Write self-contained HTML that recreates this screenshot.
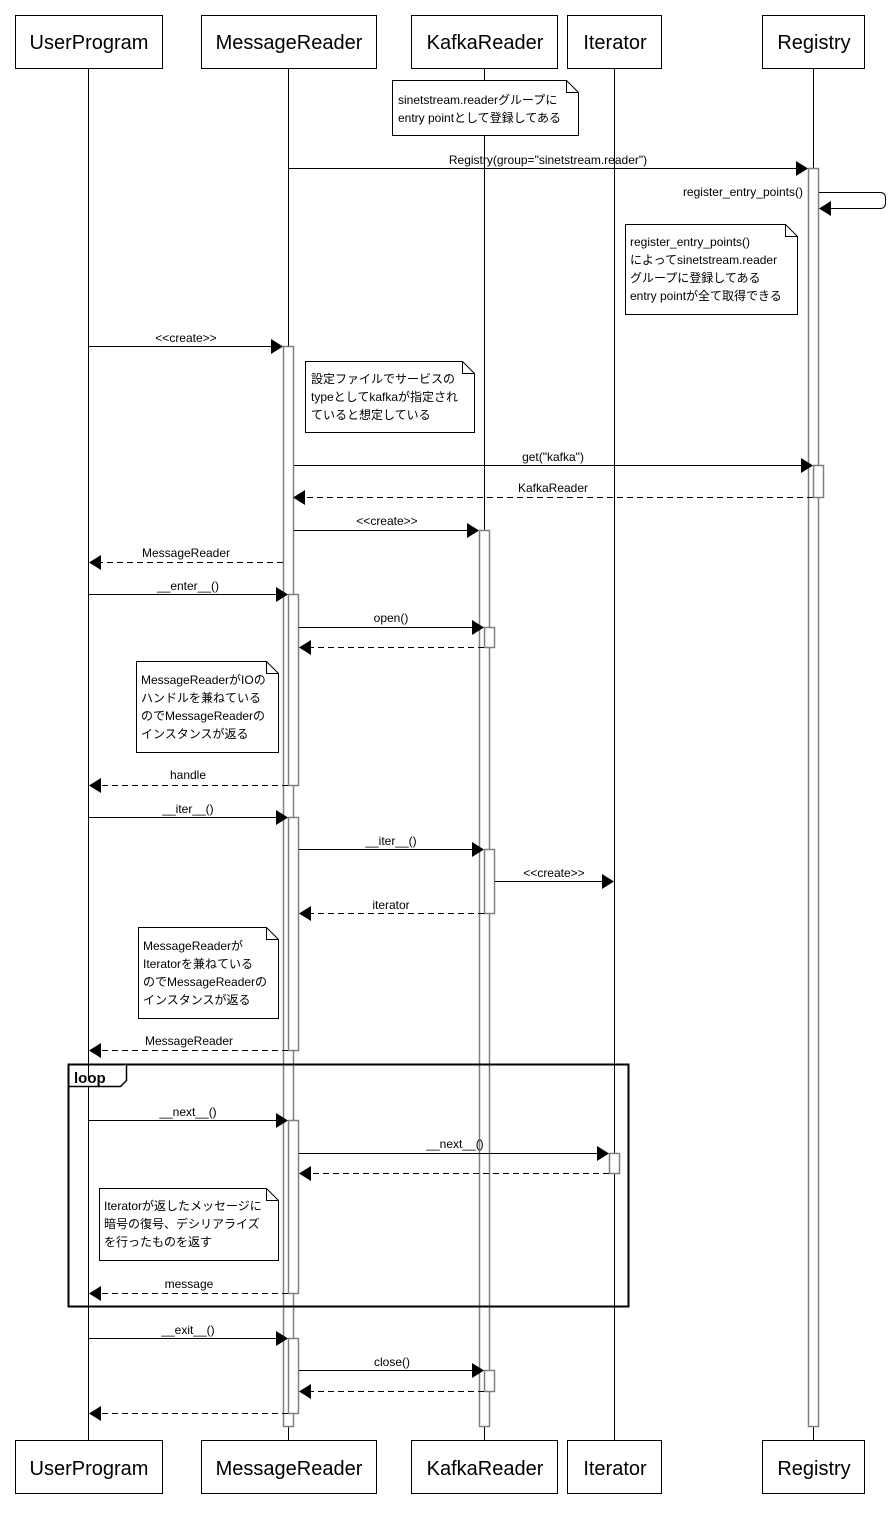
<!DOCTYPE html>
<html><head><meta charset="utf-8"><style>
html,body{margin:0;padding:0;background:#fff;}
svg{display:block;}
text{font-family:"Liberation Sans","Noto Sans CJK JP",sans-serif;fill:#000;}
.m{font-size:12px;text-anchor:middle;}
.n{font-size:12px;}
.h{font-size:20px;text-anchor:middle;}
.ll{stroke:#000;stroke-width:1;}
.act{fill:#fff;stroke:#808080;stroke-width:1.5;}
.sol{stroke:#000;stroke-width:1;fill:none;}
.dash{stroke:#000;stroke-width:1;stroke-dasharray:6,4;fill:none;}
.box{fill:#fff;stroke:#000;stroke-width:1;}
</style></head><body>
<svg width="896" height="1518" viewBox="0 0 896 1518" xmlns="http://www.w3.org/2000/svg">
<!-- lifelines -->
<line class="ll" x1="88.5" y1="68" x2="88.5" y2="1440"/>
<line class="ll" x1="288.5" y1="68" x2="288.5" y2="1440"/>
<line class="ll" x1="484.5" y1="68" x2="484.5" y2="1440"/>
<line class="ll" x1="614.5" y1="68" x2="614.5" y2="1440"/>
<line class="ll" x1="813.5" y1="68" x2="813.5" y2="1440"/>

<!-- header boxes -->
<rect class="box" x="15.5" y="15.5" width="147" height="53"/><text class="h" x="89" y="49">UserProgram</text>
<rect class="box" x="201.5" y="15.5" width="175" height="53"/><text class="h" x="289" y="49">MessageReader</text>
<rect class="box" x="411.5" y="15.5" width="146" height="53"/><text class="h" x="485" y="49">KafkaReader</text>
<rect class="box" x="567.5" y="15.5" width="94" height="53"/><text class="h" x="615" y="49">Iterator</text>
<rect class="box" x="762.5" y="15.5" width="102" height="53"/><text class="h" x="814" y="49">Registry</text>

<rect class="box" x="15.5" y="1440.5" width="147" height="53"/><text class="h" x="89" y="1475">UserProgram</text>
<rect class="box" x="201.5" y="1440.5" width="175" height="53"/><text class="h" x="289" y="1475">MessageReader</text>
<rect class="box" x="411.5" y="1440.5" width="146" height="53"/><text class="h" x="485" y="1475">KafkaReader</text>
<rect class="box" x="567.5" y="1440.5" width="94" height="53"/><text class="h" x="615" y="1475">Iterator</text>
<rect class="box" x="762.5" y="1440.5" width="102" height="53"/><text class="h" x="814" y="1475">Registry</text>

<!-- activation bars -->
<rect class="act" x="808.5" y="168.5" width="10" height="1258"/>
<rect class="act" x="813.5" y="465.5" width="10" height="32"/>
<rect class="act" x="283.5" y="346.5" width="10" height="1080"/>
<rect class="act" x="479.5" y="530.5" width="10" height="896"/>
<rect class="act" x="288.5" y="594.5" width="10" height="191"/>
<rect class="act" x="288.5" y="817.5" width="10" height="233"/>
<rect class="act" x="288.5" y="1120.5" width="10" height="173"/>
<rect class="act" x="288.5" y="1338.5" width="10" height="75"/>
<rect class="act" x="484.5" y="627.5" width="10" height="20"/>
<rect class="act" x="484.5" y="849.5" width="10" height="64"/>
<rect class="act" x="484.5" y="1370.5" width="10" height="21"/>
<rect class="act" x="609.5" y="1153.5" width="10" height="20"/>

<!-- notes -->
<g>
<path class="box" d="M392.5 80.5 H566.5 L578.5 92.5 V135.5 H392.5 Z"/><path class="sol" d="M566.5 80.5 V92.5 H578.5"/>
<text class="n" x="398" y="104">sinetstream.readerグループに</text>
<text class="n" x="398" y="122">entry pointとして登録してある</text>
</g>
<g>
<path class="box" d="M625.5 224.5 H785.5 L797.5 236.5 V314.5 H625.5 Z"/><path class="sol" d="M785.5 224.5 V236.5 H797.5"/>
<text class="n" x="630" y="246">register_entry_points()</text>
<text class="n" x="630" y="264">によってsinetstream.reader</text>
<text class="n" x="630" y="282">グループに登録してある</text>
<text class="n" x="630" y="300">entry pointが全て取得できる</text>
</g>
<g>
<path class="box" d="M305.5 361.5 H462.5 L474.5 373.5 V432.5 H305.5 Z"/><path class="sol" d="M462.5 361.5 V373.5 H474.5"/>
<text class="n" x="311" y="383">設定ファイルでサービスの</text>
<text class="n" x="311" y="401">typeとしてkafkaが指定され</text>
<text class="n" x="311" y="419">ていると想定している</text>
</g>
<g>
<path class="box" d="M136.5 661.5 H266.5 L278.5 673.5 V752.5 H136.5 Z"/><path class="sol" d="M266.5 661.5 V673.5 H278.5"/>
<text class="n" x="141" y="684">MessageReaderがIOの</text>
<text class="n" x="141" y="702">ハンドルを兼ねている</text>
<text class="n" x="141" y="720">のでMessageReaderの</text>
<text class="n" x="141" y="738">インスタンスが返る</text>
</g>
<g>
<path class="box" d="M138.5 927.5 H266.5 L278.5 939.5 V1018.5 H138.5 Z"/><path class="sol" d="M266.5 927.5 V939.5 H278.5"/>
<text class="n" x="143" y="950">MessageReaderが</text>
<text class="n" x="143" y="968">Iteratorを兼ねている</text>
<text class="n" x="143" y="986">のでMessageReaderの</text>
<text class="n" x="143" y="1004">インスタンスが返る</text>
</g>
<g>
<path class="box" d="M99.5 1188.5 H266.5 L278.5 1200.5 V1260.5 H99.5 Z"/><path class="sol" d="M266.5 1188.5 V1200.5 H278.5"/>
<text class="n" x="104" y="1210">Iteratorが返したメッセージに</text>
<text class="n" x="104" y="1228">暗号の復号、デシリアライズ</text>
<text class="n" x="104" y="1246">を行ったものを返す</text>
</g>

<!-- loop frame -->
<rect x="68.5" y="1064.5" width="560" height="242" fill="none" stroke="#000" stroke-width="2"/>
<path d="M68.5 1086.5 H120.5 L126.5 1080.5 V1064.5" fill="#fff" stroke="#000" stroke-width="1.5"/>
<text x="74" y="1083" style="font-size:15px;font-weight:bold;">loop</text>

<!-- messages -->
<line class="sol" x1="289" y1="168.5" x2="800" y2="168.5"/><polygon points="796,161 808,168.5 796,176"/>
<text class="m" x="548" y="164">Registry(group="sinetstream.reader")</text>

<path d="M819 192.5 H880 Q885.5 192.5 885.5 198 V203 Q885.5 208.5 880 208.5 H826" fill="none" stroke="#000"/>
<polygon points="831,201 819,208.5 831,216"/>
<text x="803" y="196" style="font-size:12px;text-anchor:end;">register_entry_points()</text>

<line class="sol" x1="89" y1="346.5" x2="276" y2="346.5"/><polygon points="271,339 283,346.5 271,354"/>
<text class="m" x="186" y="342">&lt;&lt;create&gt;&gt;</text>

<line class="sol" x1="294" y1="465.5" x2="806" y2="465.5"/><polygon points="801,458 813,465.5 801,473"/>
<text class="m" x="553" y="461">get("kafka")</text>

<line class="dash" x1="813" y1="497.5" x2="300" y2="497.5"/><polygon points="305,490 293,497.5 305,505"/>
<text class="m" x="553" y="492">KafkaReader</text>

<line class="sol" x1="294" y1="530.5" x2="472" y2="530.5"/><polygon points="467,523 479,530.5 467,538"/>
<text class="m" x="387" y="525">&lt;&lt;create&gt;&gt;</text>

<line class="dash" x1="283" y1="562.5" x2="95" y2="562.5"/><polygon points="101,555 89,562.5 101,570"/>
<text class="m" x="186" y="557">MessageReader</text>

<line class="sol" x1="89" y1="594.5" x2="281" y2="594.5"/><polygon points="276,587 288,594.5 276,602"/>
<text class="m" x="188" y="590">__enter__()</text>

<line class="sol" x1="299" y1="627.5" x2="477" y2="627.5"/><polygon points="472,620 484,627.5 472,635"/>
<text class="m" x="391" y="622">open()</text>

<line class="dash" x1="484" y1="647.5" x2="305" y2="647.5"/><polygon points="311,640 299,647.5 311,655"/>

<line class="dash" x1="288" y1="785.5" x2="95" y2="785.5"/><polygon points="101,778 89,785.5 101,793"/>
<text class="m" x="188" y="779">handle</text>

<line class="sol" x1="89" y1="817.5" x2="281" y2="817.5"/><polygon points="276,810 288,817.5 276,825"/>
<text class="m" x="188" y="813">__iter__()</text>

<line class="sol" x1="299" y1="849.5" x2="477" y2="849.5"/><polygon points="472,842 484,849.5 472,857"/>
<text class="m" x="391" y="845">__iter__()</text>

<line class="sol" x1="495" y1="881.5" x2="607" y2="881.5"/><polygon points="602,874 614,881.5 602,889"/>
<text class="m" x="554" y="877">&lt;&lt;create&gt;&gt;</text>

<line class="dash" x1="484" y1="913.5" x2="305" y2="913.5"/><polygon points="311,906 299,913.5 311,921"/>
<text class="m" x="391" y="909">iterator</text>

<line class="dash" x1="288" y1="1050.5" x2="95" y2="1050.5"/><polygon points="101,1043 89,1050.5 101,1058"/>
<text class="m" x="189" y="1045">MessageReader</text>

<line class="sol" x1="89" y1="1120.5" x2="281" y2="1120.5"/><polygon points="276,1113 288,1120.5 276,1128"/>
<text class="m" x="188" y="1116">__next__()</text>

<line class="sol" x1="299" y1="1153.5" x2="602" y2="1153.5"/><polygon points="597,1146 609,1153.5 597,1161"/>
<text class="m" x="455" y="1148">__next__()</text>

<line class="dash" x1="609" y1="1173.5" x2="305" y2="1173.5"/><polygon points="311,1166 299,1173.5 311,1181"/>

<line class="dash" x1="288" y1="1293.5" x2="95" y2="1293.5"/><polygon points="101,1286 89,1293.5 101,1301"/>
<text class="m" x="189" y="1288">message</text>

<line class="sol" x1="89" y1="1338.5" x2="281" y2="1338.5"/><polygon points="276,1331 288,1338.5 276,1346"/>
<text class="m" x="188" y="1334">__exit__()</text>

<line class="sol" x1="299" y1="1370.5" x2="477" y2="1370.5"/><polygon points="472,1363 484,1370.5 472,1378"/>
<text class="m" x="392" y="1366">close()</text>

<line class="dash" x1="484" y1="1391.5" x2="305" y2="1391.5"/><polygon points="311,1384 299,1391.5 311,1399"/>

<line class="dash" x1="288" y1="1413.5" x2="95" y2="1413.5"/><polygon points="101,1406 89,1413.5 101,1421"/>
</svg>
</body></html>
